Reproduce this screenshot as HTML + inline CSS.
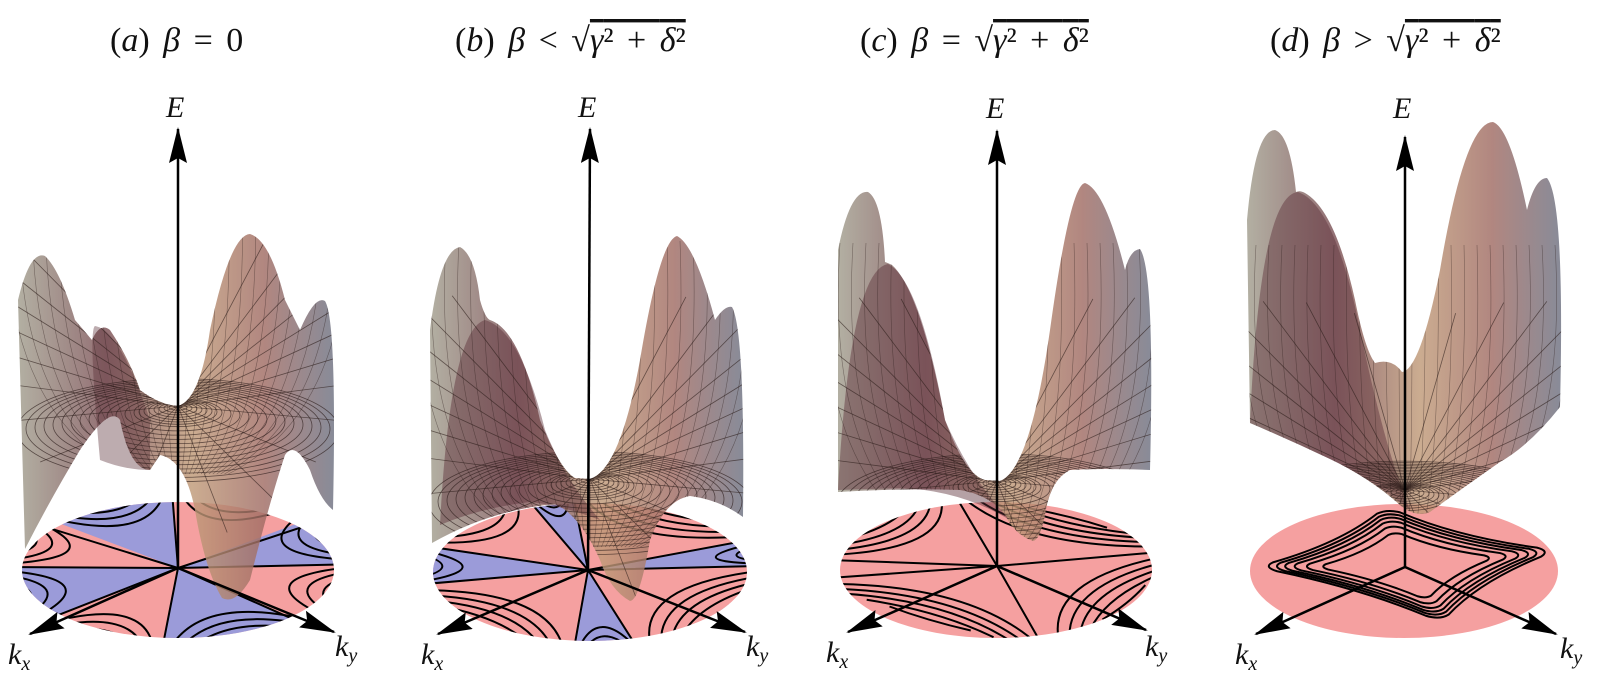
<!DOCTYPE html>
<html><head><meta charset="utf-8"><style>
html,body{margin:0;padding:0;background:#fff;}
svg{display:block}
text{font-family:"Liberation Serif","DejaVu Serif",serif;fill:#111}
.i{font-style:italic}
</style></head><body>
<svg id="S" width="1600" height="678" viewBox="0 0 1600 678" xmlns="http://www.w3.org/2000/svg" font-family="Liberation Serif, DejaVu Serif, serif">
<defs>
<marker id="big" markerWidth="36" markerHeight="18" refX="34" refY="9" orient="auto" markerUnits="userSpaceOnUse" viewBox="0 0 36 18">
<path d="M0,0 L36,9 L0,18 L5,9 Z" fill="#000"/></marker>
<linearGradient id="sg" x1="0" y1="0" x2="1" y2="0">
<stop offset="0" stop-color="#a29e8e"/><stop offset="0.28" stop-color="#7c5156"/><stop offset="0.55" stop-color="#c09a78"/><stop offset="0.78" stop-color="#a06c64"/><stop offset="1" stop-color="#6e7282"/></linearGradient>
<clipPath id="da"><ellipse cx="178" cy="570" rx="156" ry="68"/></clipPath>
<clipPath id="db"><ellipse cx="590" cy="572" rx="157" ry="69"/></clipPath>
<clipPath id="dc"><ellipse cx="996" cy="570" rx="156" ry="68"/></clipPath>
<clipPath id="sa"><path id="pa" d="M25,549 L18,300 Q30,250 45,256 Q60,270 75,320 L92,340 Q100,322 110,330 Q130,360 140,390 Q160,405 178,406 Q200,400 210,330 Q230,235 250,234 Q270,240 285,300 L300,330 Q315,295 325,301 Q337,320 333,510 Q320,500 310,470 Q295,440 285,455 Q270,500 250,580 Q235,605 222,598 Q205,570 195,510 Q185,460 160,455 L150,470 Q130,470 120,420 Q110,405 80,450 Q50,500 25,549 Z"/></clipPath>
<clipPath id="sb"><path id="pb" d="M432,543 L430,330 Q440,250 460,247 Q475,255 480,300 Q485,318 490,320 Q520,330 540,420 Q560,470 575,478 L590,479 Q620,470 640,360 Q660,240 677,236 Q695,245 715,320 Q725,305 732,307 Q745,330 743,517 Q720,500 690,496 Q665,500 650,540 Q640,600 630,601 Q610,590 600,560 Q580,515 555,504 Q490,510 432,543 Z"/></clipPath>
<clipPath id="sc"><path id="pc" d="M838,492 L838,250 Q850,190 868,192 Q882,200 885,262 Q888,263 892,265 Q920,290 945,420 Q965,475 985,480 L1000,481 Q1030,470 1050,330 Q1070,185 1085,183 Q1105,190 1125,270 Q1130,250 1140,249 Q1155,270 1150,470 Q1100,468 1070,470 Q1050,480 1045,515 Q1040,540 1033,541 Q1015,535 1005,515 Q990,495 960,490 Q900,488 838,492 Z"/></clipPath>
<clipPath id="sd"><path id="pd" d="M1250,423 L1247,220 Q1255,130 1275,130 Q1290,135 1296,192 Q1300,190 1305,193 Q1335,210 1355,300 Q1365,350 1375,363 Q1392,358 1402,372 Q1420,370 1440,270 Q1465,122 1493,122 Q1510,128 1527,210 Q1535,178 1547,178 Q1565,200 1560,407 Q1530,445 1500,462 Q1460,490 1430,512 Q1415,518 1400,505 Q1370,478 1330,459 Q1290,440 1250,423 Z"/></clipPath>
</defs>

<!-- titles -->
<g font-size="34" word-spacing="5">
<text x="110" y="51">(<tspan class="i">a</tspan>) <tspan class="i">β</tspan> = 0</text>
<text x="455" y="51">(<tspan class="i">b</tspan>) <tspan class="i">β</tspan> &lt; √<tspan text-decoration="overline"><tspan class="i">γ</tspan>² + <tspan class="i">δ</tspan>²</tspan></text>
<text x="860" y="51">(<tspan class="i">c</tspan>) <tspan class="i">β</tspan> = √<tspan text-decoration="overline"><tspan class="i">γ</tspan>² + <tspan class="i">δ</tspan>²</tspan></text>
<text x="1270" y="51">(<tspan class="i">d</tspan>) <tspan class="i">β</tspan> &gt; √<tspan text-decoration="overline"><tspan class="i">γ</tspan>² + <tspan class="i">δ</tspan>²</tspan></text>
</g>

<!-- Disks -->
<ellipse cx="178" cy="570" rx="156" ry="68" fill="#f5a0a0"/>
<g clip-path="url(#da)" fill="#9b9bd9">
<path d="M178,568 L40,516 L168,440 Z"/><path d="M178,568 L360,500 L360,564 Z"/><path d="M178,568 L340,640 L160,660 Z"/><path d="M178,568 L20,630 L0,566 Z"/>
</g>
<g clip-path="url(#da)" stroke="#000" stroke-width="2"><path d="M178,568 L0,567 M178,568 L20,519 M178,568 L168,440 M178,568 L360,508 M178,568 L360,564 M178,568 L340,640 M178,568 L160,660 M178,568 L10,634"/></g>
<g id="ca" clip-path="url(#da)" fill="none" stroke="#000" stroke-width="2"></g>

<ellipse cx="590" cy="572" rx="157" ry="69" fill="#f5a0a0"/>
<g clip-path="url(#db)" fill="#9b9bd9">
<path d="M588,570 L425,546 L425,584 Z"/><path d="M588,570 L520,490 L572,490 Z"/><path d="M588,570 L760,538 L760,566 Z"/><path d="M588,570 L572,660 L645,660 Z"/>
</g>
<g clip-path="url(#db)" stroke="#000" stroke-width="2"><path d="M588,570 L425,546 M588,570 L425,584 M588,570 L520,490 M588,570 L572,490 M588,570 L760,538 M588,570 L760,566 M588,570 L572,660 M588,570 L645,660"/></g>
<g id="cb" clip-path="url(#db)" fill="none" stroke="#000" stroke-width="2"></g>

<ellipse cx="996" cy="570" rx="156" ry="68" fill="#f5a0a0"/>
<g clip-path="url(#dc)" stroke="#000" stroke-width="2"><path d="M997,566 L830,560 M997,566 L955,495 M997,566 L1160,552 M997,566 L1045,650 M997,566 L830,578"/></g>
<g id="cc" clip-path="url(#dc)" fill="none" stroke="#000" stroke-width="2"></g>

<ellipse cx="1404" cy="571" rx="154" ry="67" fill="#f5a0a0"/>
<g fill="none" stroke="#000" stroke-width="2" id="rings"></g>

<!-- Surfaces -->
<use href="#pa" fill="url(#sg)" opacity="0.82"/>
<path d="M100,460 Q88,330 95,326 Q120,330 150,420 L150,470 Q125,470 100,460 Z" fill="#5a2f38" opacity="0.4"/>
<g id="ma" clip-path="url(#sa)"></g>

<use href="#pb" fill="url(#sg)" opacity="0.82"/>
<path d="M440,525 Q450,330 485,320 Q520,330 545,430 Q565,480 600,520 Q560,505 530,502 Q480,508 440,525 Z" fill="#5a2f38" opacity="0.45"/>
<g id="mb" clip-path="url(#sb)"></g>

<use href="#pc" fill="url(#sg)" opacity="0.82"/>
<path d="M838,490 Q850,270 888,264 Q920,280 945,420 Q970,478 1010,520 Q960,490 900,488 Z" fill="#5a2f38" opacity="0.45"/>
<g id="mc" clip-path="url(#sc)"></g>

<use href="#pd" fill="url(#sg)" opacity="0.82"/>
<path d="M1250,423 Q1260,195 1298,192 Q1335,205 1360,330 Q1385,450 1410,510 Q1370,478 1330,459 Q1290,440 1250,423 Z" fill="#5a2f38" opacity="0.45"/>
<g id="md" clip-path="url(#sd)"></g>

<!-- Axes -->
<g stroke="#000" stroke-width="2.5">
<line x1="178" y1="568" x2="178" y2="129" marker-end="url(#big)"/>
<line x1="178" y1="568" x2="30" y2="634" marker-end="url(#big)"/>
<line x1="178" y1="568" x2="334" y2="632" marker-end="url(#big)"/>
<line x1="588" y1="570" x2="590" y2="129" marker-end="url(#big)"/>
<line x1="588" y1="570" x2="438" y2="634" marker-end="url(#big)"/>
<line x1="588" y1="570" x2="745" y2="632" marker-end="url(#big)"/>
<line x1="997" y1="566" x2="997" y2="131" marker-end="url(#big)"/>
<line x1="997" y1="566" x2="848" y2="632" marker-end="url(#big)"/>
<line x1="997" y1="566" x2="1146" y2="630" marker-end="url(#big)"/>
<line x1="1405" y1="567" x2="1405" y2="137" marker-end="url(#big)"/>
<line x1="1405" y1="567" x2="1256" y2="634" marker-end="url(#big)"/>
<line x1="1405" y1="567" x2="1556" y2="634" marker-end="url(#big)"/>
</g>
<g font-size="30">
<text x="166" y="117" class="i">E</text>
<text x="578" y="117" class="i">E</text>
<text x="986" y="118" class="i">E</text>
<text x="1393" y="118" class="i">E</text>
<text x="8" y="664" class="i">k<tspan font-size="20" dy="6">x</tspan></text>
<text x="335" y="656" class="i">k<tspan font-size="20" dy="6">y</tspan></text>
<text x="421" y="664" class="i">k<tspan font-size="20" dy="6">x</tspan></text>
<text x="746" y="656" class="i">k<tspan font-size="20" dy="6">y</tspan></text>
<text x="826" y="662" class="i">k<tspan font-size="20" dy="6">x</tspan></text>
<text x="1145" y="656" class="i">k<tspan font-size="20" dy="6">y</tspan></text>
<text x="1235" y="664" class="i">k<tspan font-size="20" dy="6">x</tspan></text>
<text x="1560" y="658" class="i">k<tspan font-size="20" dy="6">y</tspan></text>
</g>
</svg>
<script>
(function(){
var NS="http://www.w3.org/2000/svg";
function P(g,d,extra){var p=document.createElementNS(NS,"path");p.setAttribute("d",d);if(extra)for(var k in extra)p.setAttribute(k,extra[k]);document.getElementById(g).appendChild(p);}
function fam(g,C,pairs){
 var par=[[.04,.22],[.1,.38],[.17,.52],[.25,.66],[.34,.8]];
 pairs.forEach(function(pq){
  var Pp=[C[0]+(pq[0][0]-C[0])*1.25,C[1]+(pq[0][1]-C[1])*1.25];
  var Qq=[C[0]+(pq[1][0]-C[0])*1.25,C[1]+(pq[1][1]-C[1])*1.25];
  var m=[(Pp[0]+Qq[0])/2,(Pp[1]+Qq[1])/2];
  par.forEach(function(ab){
   var a=ab[0],b=ab[1];
   var s=[Pp[0]+(Qq[0]-Pp[0])*a,Pp[1]+(Qq[1]-Pp[1])*a];
   var e=[Qq[0]+(Pp[0]-Qq[0])*a,Qq[1]+(Pp[1]-Qq[1])*a];
   var c=[C[0]+(m[0]-C[0])*b*1.3,C[1]+(m[1]-C[1])*b*1.3];
   P(g,"M"+s[0]+","+s[1]+" Q"+c[0]+","+c[1]+" "+e[0]+","+e[1]);
  });
 });
}
var A=[178,568],ra=[[22,567],[60,526],[173,500],[287,515],[334,564],[302,612],[163,639],[52,616]];
var pa=[];for(var i=0;i<ra.length;i++)pa.push([ra[i],ra[(i+1)%ra.length]]);
fam("ca",A,pa);
var B=[588,570],rb=[[432,584],[432,548],[530,503],[573,503],[747,542],[747,566],[636,640],[575,642]];
var pb=[];for(i=0;i<rb.length;i++)pb.push([rb[i],rb[(i+1)%rb.length]]);
fam("cb",B,pb);
var Cc=[997,566];
fam("cc",Cc,[[[842,560],[955,503]],[[842,578],[1045,638]],[[1045,638],[1152,552]],[[955,503],[1152,552]]]);
var cx=1405,cy=567;
var pts=[[-142,0],[-18,-58],[145,-16],[35,53]];
[1,0.94,0.88,0.81,0.72,0.6].forEach(function(s){
 var p=pts.map(function(q){return [cx+q[0]*s,cy+q[1]*s];});
 var d="";
 for(var j=0;j<4;j++){
  var a=p[j],b=p[(j+1)%4];
  var m=[(a[0]+b[0])/2,(a[1]+b[1])/2];
  var c=[m[0]+(cx-m[0])*0.18,m[1]+(cy-m[1])*0.18];
  var a2=[a[0]+(b[0]-a[0])*0.08,a[1]+(b[1]-a[1])*0.08];
  var b2=[b[0]+(a[0]-b[0])*0.08,b[1]+(a[1]-b[1])*0.08];
  if(j==0)d+="M"+a2[0]+","+a2[1];
  d+=" Q"+c[0]+","+c[1]+" "+b2[0]+","+b2[1];
  var n=p[(j+2)%4];
  var b3=[b[0]+(n[0]-b[0])*0.08,b[1]+(n[1]-b[1])*0.08];
  d+=" Q"+b[0]+","+b[1]+" "+b3[0]+","+b3[1];
 }
 P("rings",d+"Z");
});
function mesh(g,cx,cy,R){
 for(var r=4;r<R;r+=(r<40?5:9)){var e=document.createElementNS(NS,"ellipse");e.setAttribute("cx",cx);e.setAttribute("cy",cy+r*0.15);e.setAttribute("rx",r);e.setAttribute("ry",r*0.32);e.setAttribute("fill","none");e.setAttribute("stroke","#2a1a18");e.setAttribute("stroke-width","0.8");e.setAttribute("opacity","0.65");document.getElementById(g).appendChild(e);}
 for(var k=0;k<28;k++){var t=k/28*2*Math.PI;P(g,"M"+cx+","+cy+" L"+(cx+Math.cos(t)*R*1.3)+","+(cy+Math.sin(t)*R*0.9-Math.abs(Math.cos(t))*R*0.6),{stroke:"#2a1a18","stroke-width":"0.8",opacity:"0.6",fill:"none"});}
 for(var x=cx-R;x<cx+R;x+=13){P(g,"M"+x+","+(cy-R*1.4)+" Q"+(x+(x-cx)*0.1)+","+cy+" "+(cx+(x-cx)*0.3)+","+(cy+R*0.4),{stroke:"#2a1a18","stroke-width":"0.6",opacity:"0.45",fill:"none"});}
}
mesh("ma",178,406,170);mesh("mb",590,479,170);mesh("mc",997,481,170);mesh("md",1405,490,175);
})();
</script>
</body></html>
